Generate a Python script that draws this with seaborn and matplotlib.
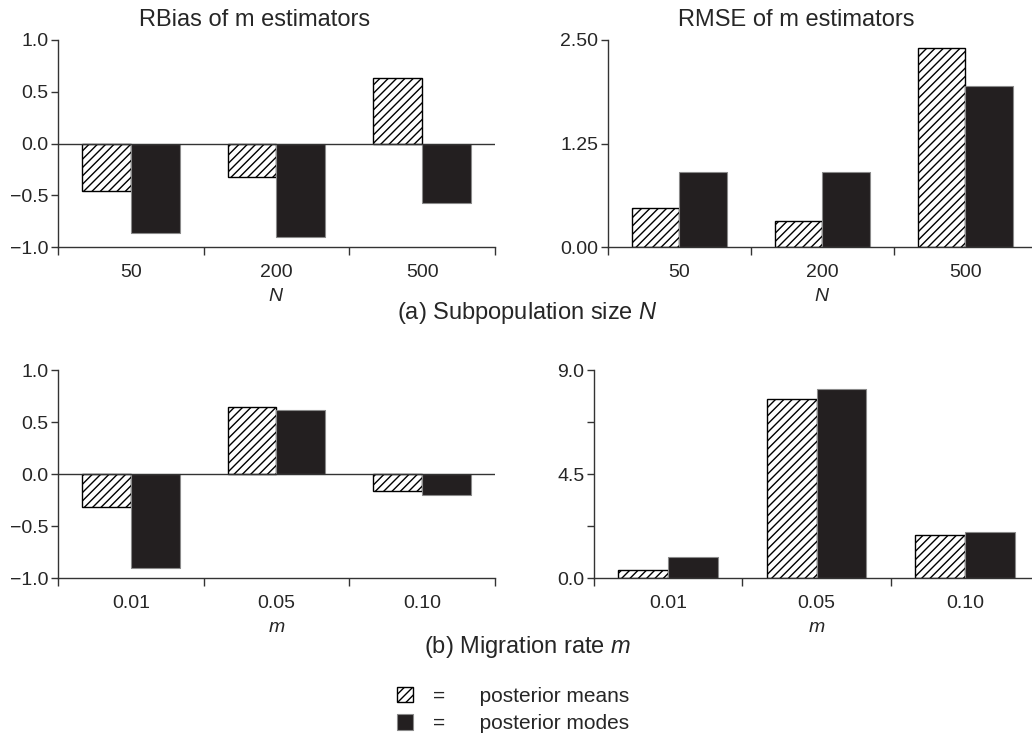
import matplotlib
matplotlib.use('Agg')
import matplotlib.pyplot as plt
from matplotlib.patches import Patch
import seaborn as sns
import pandas as pd

# categories
estimators = ['posterior means', 'posterior modes']
n_levels = ['50', '200', '500']
m_levels = ['0.01', '0.05', '0.10']

# values
rbias_n_means = [-0.46, -0.32, 0.635]
rbias_n_modes = [-0.86, -0.90, -0.57]
rmse_n_means = [0.47, 0.32, 2.40]
rmse_n_modes = [0.90, 0.91, 1.94]
rbias_m_means = [-0.32, 0.645, -0.165]
rbias_m_modes = [-0.90, 0.615, -0.20]
rmse_m_means = [0.36, 7.74, 1.87]
rmse_m_modes = [0.90, 8.16, 1.99]

BLACK = '#231f20'
AXC = '#333333'

sns.set_style('ticks')
plt.rcParams['font.family'] = ['Liberation Sans', 'DejaVu Sans']
plt.rcParams['mathtext.fontset'] = 'custom'
plt.rcParams['mathtext.rm'] = 'Liberation Sans'
plt.rcParams['mathtext.it'] = 'Liberation Sans:italic'
plt.rcParams['hatch.linewidth'] = 1.0


def long_df(levels, means, modes):
    return pd.DataFrame({
        'level': levels * 2,
        'value': means + modes,
        'estimator': [estimators[0]] * len(levels) + [estimators[1]] * len(levels),
    })


def draw(ax, levels, means, modes, ylim, yticks, yminor, xlabel, title=None, title_x=0.45):
    df = long_df(levels, means, modes)
    sns.barplot(data=df, x='level', y='value', hue='estimator', order=levels,
                hue_order=estimators, palette=['white', BLACK], saturation=1,
                width=0.67, gap=0, errorbar=None, legend=False, ax=ax)
    for bar in ax.containers[0]:
        bar.set_hatch('////')
        bar.set_edgecolor('black')
        bar.set_linewidth(1.0)
    for bar in ax.containers[1]:
        bar.set_edgecolor('#8a8a8a')
        bar.set_linewidth(0.8)

    ax.set_xlim(-0.5, len(levels) - 0.5)
    ax.set_ylim(*ylim)
    if ylim[0] < 0:
        ax.axhline(0, color=AXC, lw=1.0, zorder=3)
    sns.despine(ax=ax)
    for s in ['left', 'bottom']:
        ax.spines[s].set_color(AXC)
        ax.spines[s].set_linewidth(1.0)

    # labels at category centres, tick marks at category boundaries
    ax.set_xticks(range(len(levels)))
    ax.set_xticklabels(levels)
    ax.set_xticks([i - 0.5 for i in range(len(levels) + 1)], minor=True)
    ax.tick_params(axis='x', which='major', length=0, pad=12, labelsize=14)
    ax.tick_params(axis='x', which='minor', length=6, width=1.0, color=AXC)
    ax.set_yticks(yticks)
    if yminor:
        ax.set_yticks(yminor, minor=True)
    ax.tick_params(axis='y', which='both', length=5, width=1.0, color=AXC, labelsize=14, pad=2)
    ax.set_xlabel(xlabel, fontsize=14, labelpad=5)
    ax.set_ylabel('')
    if title:
        ax.set_title(title, fontsize=17, x=title_x, pad=10)


fig = plt.figure(figsize=(10.32, 7.38), dpi=100)
ax_tl = fig.add_axes([0.0562, 0.6653, 0.4234, 0.2805])
ax_tr = fig.add_axes([0.5891, 0.6653, 0.4157, 0.2805])
ax_bl = fig.add_axes([0.0562, 0.2168, 0.4234, 0.2818])
ax_br = fig.add_axes([0.5756, 0.2168, 0.4312, 0.2818])

draw(ax_tl, n_levels, rbias_n_means, rbias_n_modes, (-1, 1), [-1, -0.5, 0, 0.5, 1], None,
     '$\\it{N}$', 'RBias of m estimators', 0.449)
draw(ax_tr, n_levels, rmse_n_means, rmse_n_modes, (0, 2.5), [0, 1.25, 2.5], None,
     '$\\it{N}$', 'RMSE of m estimators', 0.438)
draw(ax_bl, m_levels, rbias_m_means, rbias_m_modes, (-1, 1), [-1, -0.5, 0, 0.5, 1], None,
     '$\\it{m}$')
draw(ax_br, m_levels, rmse_m_means, rmse_m_modes, (0, 9), [0, 4.5, 9], [2.25, 6.75],
     '$\\it{m}$')

fig.text(0.511, 1 - 313 / 738, '(a) Subpopulation size $\\it{N}$', ha='center', va='center', fontsize=17)
fig.text(0.511, 1 - 647 / 738, '(b) Migration rate $\\it{m}$', ha='center', va='center', fontsize=17)

handles = [Patch(facecolor='white', edgecolor='black', hatch='////', lw=1.0),
           Patch(facecolor=BLACK, edgecolor='#8a8a8a', lw=0.8)]
labels = ['=' + ' ' * 6 + estimators[0], '=' + ' ' * 6 + estimators[1]]
fig.legend(handles, labels, loc='center left', bbox_to_anchor=(397 / 1032, 1 - 710 / 738),
           frameon=False, fontsize=15, handlelength=0.75, handleheight=0.75,
           handletextpad=1.0, labelspacing=0.4, borderpad=0, borderaxespad=0)

fig.savefig('out.png', dpi=100)
